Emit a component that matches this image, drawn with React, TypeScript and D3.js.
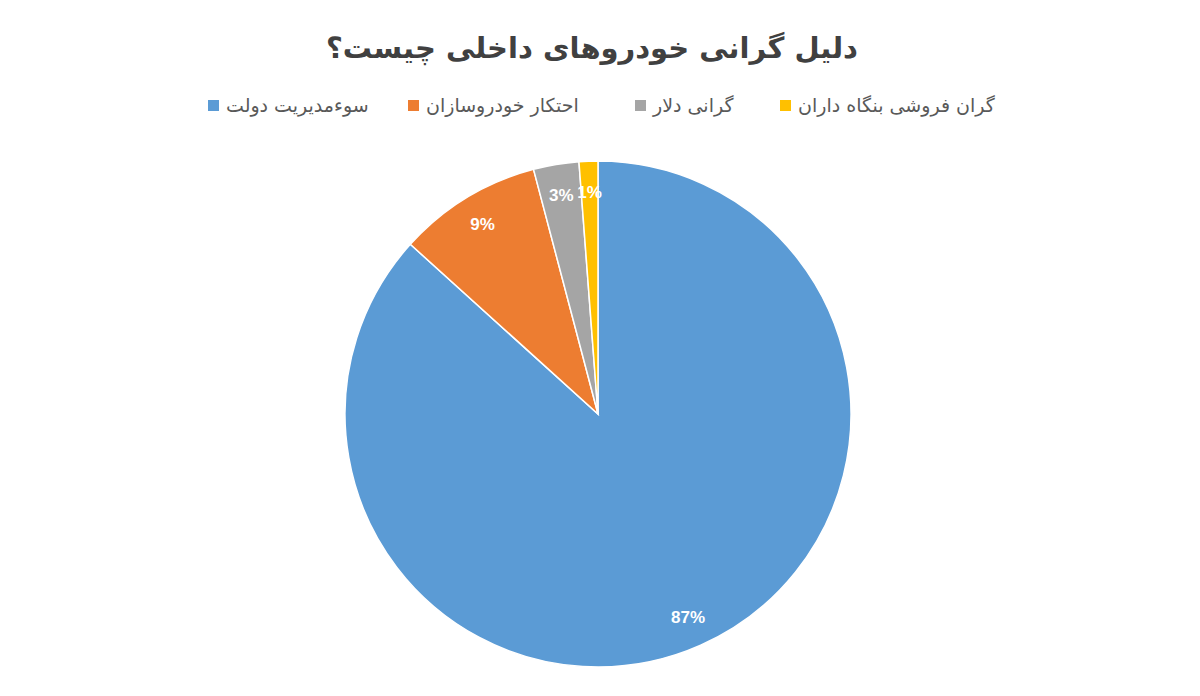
import { useEffect, useRef } from "react";
import * as d3 from "d3";

// chart data
const categories = [
  "سوءمدیریت دولت",
  "احتکار خودروسازان",
  "گرانی دلار",
  "گران فروشی بنگاه داران",
];
const values = [86.7, 9.2, 2.9, 1.2];
const colors = ["#5B9BD5", "#ED7D31", "#A5A5A5", "#FFC000"];
const title = "دلیل گرانی خودروهای داخلی چیست؟";
// legend swatch x positions (left to right)
const legendX = [208, 408, 635, 780];

export default function App() {
  const svgRef = useRef<SVGSVGElement>(null);

  useEffect(() => {
    if (!svgRef.current) return;
    const svg = d3.select(svgRef.current);
    const width = 1200;
    const height = 696;
    const cx = 598;
    const cy = 414;
    const radius = 253;

    svg.selectAll("*").remove();
    svg.attr("width", width).attr("height", height);

    svg
      .append("rect")
      .attr("width", width)
      .attr("height", height)
      .attr("fill", "white");

    // Title
    svg
      .append("text")
      .attr("x", 592)
      .attr("y", 58)
      .attr("text-anchor", "middle")
      .attr("direction", "rtl")
      .attr("fill", "#404040")
      .attr("font-family", "'DejaVu Sans', sans-serif")
      .attr("font-size", "29px")
      .attr("font-weight", "bold")
      .text(title);

    // Legend
    const legend = svg.append("g");
    categories.forEach((cat, i) => {
      legend
        .append("rect")
        .attr("x", legendX[i])
        .attr("y", 100)
        .attr("width", 11)
        .attr("height", 11)
        .attr("fill", colors[i]);
      legend
        .append("text")
        .attr("x", legendX[i] + 18)
        .attr("y", 112)
        .attr("text-anchor", "start")
        .attr("fill", "#595959")
        .attr("font-family", "'DejaVu Sans', sans-serif")
        .attr("font-size", "19px")
        .text(cat);
    });

    // Pie
    const pie = d3
      .pie<number>()
      .sort(null)
      .startAngle(0)
      .endAngle(2 * Math.PI)(values);

    const arc = d3.arc<d3.PieArcDatum<number>>().innerRadius(0).outerRadius(radius);
    const labelArc = d3
      .arc<d3.PieArcDatum<number>>()
      .innerRadius(radius - 31)
      .outerRadius(radius - 31);

    const g = svg.append("g").attr("transform", `translate(${cx},${cy})`);

    g.selectAll("path")
      .data(pie)
      .enter()
      .append("path")
      .attr("d", arc)
      .attr("fill", (_, i) => colors[i])
      .attr("stroke", "white")
      .attr("stroke-width", 1.5);

    g.selectAll("text.label")
      .data(pie)
      .enter()
      .append("text")
      .attr("class", "label")
      .attr("transform", (d) => `translate(${labelArc.centroid(d)})`)
      .attr("text-anchor", "middle")
      .attr("dy", "0.35em")
      .attr("fill", "white")
      .attr("font-family", "'Liberation Sans', Arial, sans-serif")
      .attr("font-size", "17px")
      .attr("font-weight", "bold")
      .text((d) => `${Math.round(d.data)}%`);
  }, []);

  return (
    <div style={{ position: "absolute", left: 0, top: 0 }}>
      <svg ref={svgRef} style={{ display: "block" }}></svg>
    </div>
  );
}
